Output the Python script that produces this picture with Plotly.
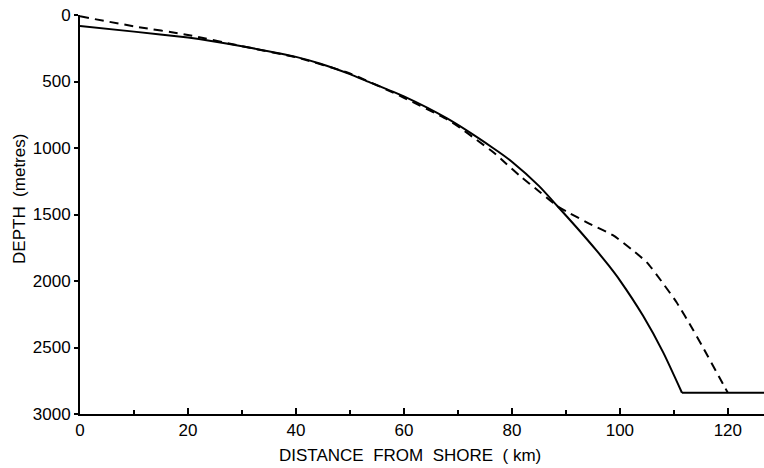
import plotly.graph_objects as go

# Solid profile (distance km, depth m)
solid_x = [0, 10, 20, 24, 30, 40, 44.4, 50, 53, 60, 68, 76.5, 80, 85, 88.5, 92, 95.7, 98, 100, 104.3, 108, 111.5]
solid_y = [82, 125, 170, 193, 235, 315, 365, 445, 495, 612, 778, 1000, 1103, 1285, 1440, 1598, 1772, 1887, 1995, 2262, 2535, 2840]
# flat floor
floor_x = [111.5, 127]
floor_y = [2840, 2840]
# Dashed profile
dash_x = [0, 10, 20, 30, 40, 50, 60, 68, 70.4, 73.5, 76.5, 79, 81.5, 85, 88.5, 90.7, 94.4, 98.7, 102.2, 105, 107.4, 110.5, 113.5, 115.4, 118.5, 120]
dash_y = [10, 85, 150, 235, 318, 440, 622, 785, 848, 940, 1030, 1120, 1210, 1325, 1440, 1490, 1570, 1655, 1763, 1860, 1985, 2160, 2363, 2500, 2730, 2840]

x_ticks = [0, 20, 40, 60, 80, 100, 120]
x_minor = [10, 30, 50, 70, 90, 110]
y_ticks = [0, 500, 1000, 1500, 2000, 2500, 3000]

FONT = "Liberation Sans"

fig = go.Figure()
fig.add_trace(go.Scatter(x=solid_x, y=solid_y, mode="lines",
                         line=dict(color="black", width=2, shape="spline", smoothing=0.6)))
fig.add_trace(go.Scatter(x=floor_x, y=floor_y, mode="lines",
                         line=dict(color="black", width=2)))
fig.add_trace(go.Scatter(x=dash_x, y=dash_y, mode="lines",
                         line=dict(color="black", width=2, dash="9px,6px", shape="spline", smoothing=0.6)))

fig.update_layout(
    width=764, height=468,
    margin=dict(l=80, r=0, t=15, b=54),
    paper_bgcolor="white", plot_bgcolor="white",
    showlegend=False,
    font=dict(family=FONT, color="black", size=17),
    xaxis=dict(
        range=[0, 126.7], tickvals=x_ticks, ticks="inside", ticklen=6, tickwidth=1.5,
        tickcolor="black", showline=True, linecolor="black", linewidth=2,
        showgrid=False, zeroline=False,
        minor=dict(tickvals=x_minor, ticks="inside", ticklen=4, tickcolor="black"),
        tickfont=dict(size=17),
    ),
    yaxis=dict(
        range=[3000, 0], tickvals=y_ticks, ticks="outside", ticklen=4, tickwidth=1.5,
        tickcolor="black", showline=True, linecolor="black", linewidth=2,
        showgrid=False, zeroline=False,
        tickfont=dict(size=17),
    ),
    annotations=[
        dict(text="DISTANCE  FROM  SHORE  ( km)", xref="paper", yref="paper",
             x=0.4825, y=-0.1028, xanchor="center", yanchor="middle",
             showarrow=False, font=dict(size=17)),
        dict(text="DEPTH  (metres)", xref="paper", yref="paper",
             x=-0.0877, y=0.539, xanchor="center", yanchor="middle", textangle=-90,
             showarrow=False, font=dict(size=17)),
    ],
)

fig.write_html("out.html")
